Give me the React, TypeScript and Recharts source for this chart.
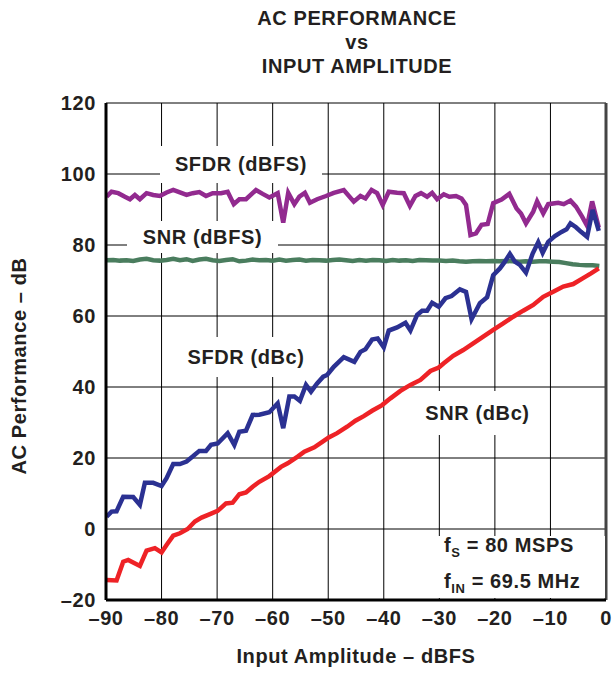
import { LineChart, Line, XAxis, YAxis, CartesianGrid, ReferenceLine } from "recharts";

const X_TICKS = [-90, -80, -70, -60, -50, -40, -30, -20, -10, 0];
const Y_TICKS = [-20, 0, 20, 40, 60, 80, 100, 120];

// SFDR (dBFS)
const sfdrFsX = [
  -89.9, -89, -87.8, -86.6, -85.7, -84.8, -83.9, -82.7, -81.5, -80.3, -79.1, -77.9, -76.7, -75.5,
  -74.4, -73.2, -72, -70.8, -69.3, -68.1, -67, -66, -64.8, -63, -61.8, -60.6, -59.1, -58.1, -57.2,
  -56.1, -55.2, -54.2, -53.3, -52, -50.4, -49, -47.2, -45.4, -44.2, -43.3, -42.2, -41.2, -40.2,
  -39.1, -37.6, -36.4, -35.3, -34.3, -33.3, -32.2, -31.3, -30.4, -29.2, -28.2, -27, -26, -25.2,
  -24.4, -23.4, -22.4, -21.3, -20.3, -18.8, -17.4, -16.1, -15.3, -14.4, -13.1, -12.4, -11.3,
  -10.4, -8.6, -7.6, -6.4, -5.4, -4.3, -3.4, -2.5, -1.3,
];
const sfdrFsY = [
  93.6, 95, 94.6, 93.6, 92.9, 94.1, 92.9, 94.6, 94.1, 93.8, 94.8, 95.5, 94.8, 94.1,
  94.6, 94.9, 93.8, 94.6, 94.6, 95, 91.5, 92.9, 92.9, 95.5, 94.4, 93.4, 94.6, 86.3, 94.7,
  91.5, 93.6, 94.7, 91.9, 92.9, 93.8, 94.7, 95.5, 92.2, 93.8, 93.1, 95.5, 94.6, 91.3,
  95, 94.7, 94.6, 91, 93.8, 94.6, 93.6, 94.7, 92.9, 94.3, 93.6, 93.8, 93.1, 91.3,
  82.8, 83.3, 85.7, 85.9, 91.8, 92.8, 94.4, 90.3, 88.9, 86.1, 89.4, 92.3, 88.9,
  91.5, 91.9, 91.5, 92.5, 90.8, 88, 85.4, 92.3, 84.9,
];

// SNR (dBFS)
const snrFsX = [
  -89.9, -88.7, -87.5, -86.3, -85.1, -83.9, -82.7, -81.5, -80.3, -79.1, -77.9, -76.7, -75.5, -74.4,
  -73.2, -72, -70.8, -69.6, -68.4, -67.2, -66, -64.8, -63.6, -62.4, -61.2, -60, -58.8, -57.6,
  -56.4, -55.2, -54, -52.8, -51.6, -50.4, -49.2, -48, -46.8, -45.6, -44.4, -43.2, -42, -40.8,
  -39.6, -38.4, -37.2, -36, -34.8, -33.6, -32.4, -31.2, -30, -28.8, -27.6, -26.4, -25.2, -24,
  -22.8, -21.6, -20.4, -19.2, -18, -16.8, -15.6, -14.4, -13.2, -12, -10.8, -9.6, -8.4, -7.2,
  -6, -4.8, -3.6, -2.4, -1.2,
];
const snrFsY = [
  75.7, 75.8, 75.6, 75.7, 75.5, 75.9, 76.1, 75.7, 75.6, 75.8, 76.1, 75.7, 76.0, 75.5,
  75.9, 76.1, 75.7, 75.5, 75.8, 76.0, 75.4, 75.6, 75.9, 75.7, 75.8, 75.6, 75.9, 75.6,
  75.8, 75.9, 75.6, 75.8, 75.7, 75.6, 75.8, 75.9, 75.7, 75.5, 75.8, 75.6, 75.8, 75.7,
  75.5, 75.8, 75.6, 75.7, 75.5, 75.8, 75.7, 75.6, 75.6, 75.5, 75.6, 75.4, 75.3, 75.4,
  75.5, 75.4, 75.5, 75.4, 75.5, 75.4, 75.3, 75.4, 75.3, 75.4, 75.4, 75.3, 75.2, 74.9,
  74.6, 74.4, 74.3, 74.3, 74.1,
];

// SFDR (dBc)
const sfdrCX = [
  -89.9, -89, -88.1, -86.9, -85.1, -83.9, -83, -81.5, -80, -79.1, -77.9, -76.7, -75.5, -74.4,
  -73.2, -72, -71.1, -69.9, -68.1, -66.9, -66, -64.8, -63.6, -62.4, -60.6, -59.1, -58.1, -57,
  -56.1, -55.1, -54, -53.1, -52, -50.9, -50.2, -49, -47.2, -45.3, -44.2, -43.3, -42.1, -41.1,
  -40, -39.1, -37.6, -36.1, -35.2, -34, -33.1, -32.2, -31.3, -30.1, -28.9, -27.8, -26.3, -25.2,
  -24.2, -22.7, -21.4, -20.3, -19.1, -18.2, -17.3, -16.4, -15.5, -14.4, -13.2, -12.2, -11.4,
  -10.4, -9.2, -8, -7.1, -6.4, -5.4, -4.5, -3.4, -2.4, -1.3,
];
const sfdrCY = [
  3.5, 4.9, 5, 9.1, 9, 6.8, 13, 13, 12.1, 14.3, 18.3, 18.3, 19, 20.4,
  22, 22, 23.7, 24.1, 27, 23.7, 27.4, 27.7, 32.1, 32.2, 32.9, 35.4, 28.4, 37.3,
  37.3, 36.1, 40.6, 38.7, 41, 42.9, 43.4, 45.7, 48.4, 47.1, 49.9, 50.6, 53.4, 53.7,
  51.2, 55.9, 56.8, 58.1, 55.9, 60.3, 61.5, 61.5, 63.7, 62.6, 65, 65.6, 67.5, 66.8,
  59.1, 63.6, 65.3, 71.5, 73.4, 75.3, 77.5, 75.3, 74.4, 72.2, 77.6, 80.8, 77.8,
  80.9, 82.5, 83.7, 84.4, 86.1, 85, 83.7, 82.3, 89.9, 84,
];

// SNR (dBc)
const snrCX = [
  -89.9, -88.1, -86.9, -86, -83.9, -82.7, -81.2, -80, -79.1, -77.9, -76.7, -75.3, -74, -72.8,
  -71.4, -69.9, -68.4, -67.2, -66, -64.8, -63.6, -62.4, -60.6, -58.5, -57.3, -55.5, -54.3, -52.5,
  -51, -49.9, -48.4, -46.6, -45.1, -43.6, -42.1, -40.3, -38.8, -37, -35.2, -33.4, -31.6, -30.1,
  -29.2, -27.5, -25.7, -23.9, -22.1, -20.3, -18.5, -16.7, -14.9, -13.1, -11.3, -9.5, -7.7, -5.9,
  -4.2, -2.7, -1.3,
];
const snrCY = [
  -14.4, -14.5, -9.2, -8.7, -10.4, -6.1, -5.4, -6.6, -4.5, -1.9, -1.2, 0, 2.1, 3.2,
  4.1, 5.1, 7.2, 7.4, 9.8, 10.3, 11.9, 13.3, 14.9, 17.5, 18.5, 20.4, 21.8, 23,
  24.6, 25.8, 27, 28.8, 30.5, 31.8, 33.3, 34.9, 36.8, 38.9, 40.6, 42, 44.5, 45.5,
  46.7, 48.8, 50.4, 52.3, 54.2, 56.1, 57.9, 59.8, 61.5, 63.1, 65.4, 66.8, 68.3, 69,
  70.6, 72, 73.4,
];

const toPoints = (xs: number[], ys: number[]) => xs.map((x, i) => ({ x, y: ys[i] }));

const FONT = "Arial, 'Liberation Sans', Helvetica, sans-serif";
const INK = "#231F20";
const FS = 20;
const LS = 0.6;

const tick = { fontSize: FS, fontWeight: 700, fill: INK, fontFamily: FONT, letterSpacing: LS };
const fmt = (v: number) => String(v).replace("-", "\u2013");

const text: React.CSSProperties = {
  fontFamily: FONT,
  fontWeight: 700,
  fontSize: FS,
  letterSpacing: LS,
  color: INK,
  whiteSpace: "nowrap",
};

const label = (left: number, top: number, w: number, h: number): React.CSSProperties => ({
  ...text,
  position: "absolute",
  left,
  top,
  width: w,
  height: h,
  background: "#fff",
  display: "flex",
  alignItems: "center",
  justifyContent: "center",
});

export default function App() {
  return (
    <div style={{ position: "relative", width: 613, height: 681, background: "#fff", fontFamily: FONT }}>
      <style>{`body{margin:0}`}</style>
      <div
        style={{
          ...text,
          position: "absolute",
          left: 157,
          top: 6,
          width: 400,
          textAlign: "center",
          lineHeight: "24px",
        }}
      >
        AC PERFORMANCE
        <br />
        vs
        <br />
        INPUT AMPLITUDE
      </div>
      <LineChart width={613} height={681} margin={{ top: 103, right: 7, bottom: 0, left: 0 }}>
        <CartesianGrid stroke="#000" strokeWidth={1} />
        <XAxis
          type="number"
          dataKey="x"
          domain={[-90, 0]}
          ticks={X_TICKS}
          allowDataOverflow
          height={81}
          tick={tick}
          tickFormatter={fmt}
          tickLine={false}
          tickSize={0}
          tickMargin={11}
          axisLine={{ stroke: "#000", strokeWidth: 3 }}
        />
        <YAxis
          type="number"
          domain={[-20, 120]}
          ticks={Y_TICKS}
          allowDataOverflow
          width={106}
          tick={tick}
          tickFormatter={fmt}
          tickLine={false}
          tickSize={0}
          tickMargin={10}
          axisLine={{ stroke: "#000", strokeWidth: 3 }}
        />
        <ReferenceLine x={0} stroke="#444" strokeWidth={3} ifOverflow="visible" />
        <Line data={toPoints(sfdrFsX, sfdrFsY)} dataKey="y" type="linear" stroke="#922A8F" strokeWidth={4.5} dot={false} isAnimationActive={false} />
        <Line data={toPoints(snrFsX, snrFsY)} dataKey="y" type="linear" stroke="#4A7D5E" strokeWidth={4.5} dot={false} isAnimationActive={false} />
        <Line data={toPoints(sfdrCX, sfdrCY)} dataKey="y" type="linear" stroke="#2B3192" strokeWidth={4.5} dot={false} isAnimationActive={false} />
        <Line data={toPoints(snrCX, snrCY)} dataKey="y" type="linear" stroke="#EE2226" strokeWidth={4.5} dot={false} isAnimationActive={false} />
      </LineChart>

      <div style={label(160, 146, 162, 37)}>SFDR (dBFS)</div>
      <div style={label(127, 221, 151, 32)}>SNR (dBFS)</div>
      <div style={label(176, 337, 140, 40)}>SFDR (dBc)</div>
      <div style={label(420, 391, 115, 44)}>SNR (dBc)</div>
      <div
        style={{
          ...label(437, 536, 168, 62),
          flexDirection: "column",
          alignItems: "flex-start",
          justifyContent: "center",
          paddingLeft: 7,
          boxSizing: "border-box",
          lineHeight: "29px",
        }}
      >
        <div>
          f<sub style={{ fontSize: 13 }}>S</sub> = 80 MSPS
        </div>
        <div>
          f<sub style={{ fontSize: 13 }}>IN</sub> = 69.5 MHz
        </div>
      </div>

      <div
        style={{
          ...text,
          position: "absolute",
          left: 106,
          top: 645,
          width: 500,
          textAlign: "center",
        }}
      >
        Input Amplitude – dBFS
      </div>
      <div
        style={{
          ...text,
          position: "absolute",
          left: 19,
          top: 366,
          transform: "translate(-50%, -50%) rotate(-90deg)",
        }}
      >
        AC Performance – dB
      </div>
    </div>
  );
}
